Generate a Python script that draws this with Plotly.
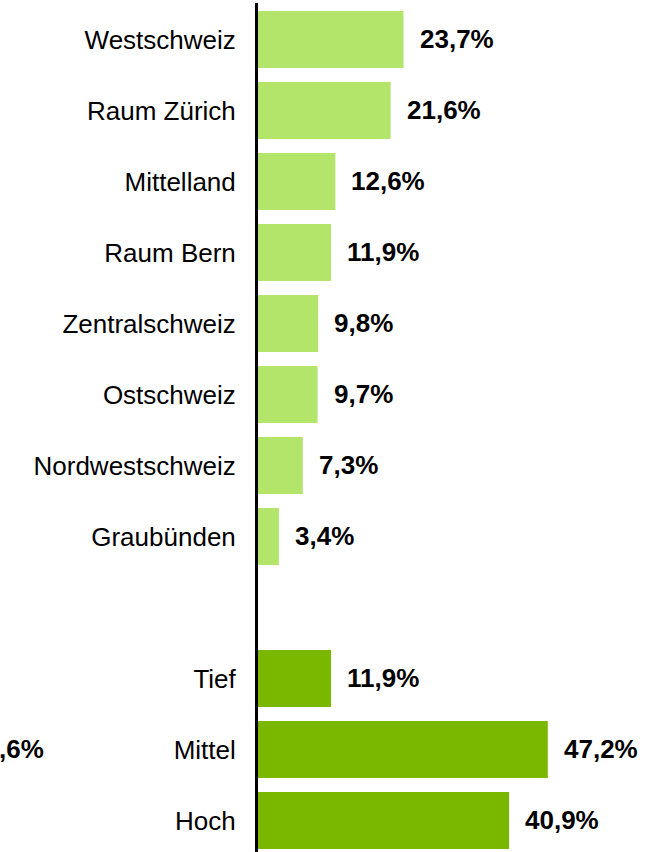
import plotly.graph_objects as go

regions = ["Westschweiz", "Raum Zürich", "Mittelland", "Raum Bern",
           "Zentralschweiz", "Ostschweiz", "Nordwestschweiz", "Graubünden"]
region_values = [23.7, 21.6, 12.6, 11.9, 9.8, 9.7, 7.3, 3.4]

levels = ["Tief", "Mittel", "Hoch"]
level_values = [11.9, 47.2, 40.9]

stray_label = ",6%"

LIGHT = "#B2E56A"
DARK = "#7AB800"
FONT = "Liberation Sans, Arial, sans-serif"

def fmt(v):
    return f"{v:.1f}".replace(".", ",") + "%"

y_regions = list(range(len(regions)))
y_levels = [len(regions) + 1 + j for j in range(len(levels))]

fig = go.Figure()
fig.add_trace(go.Bar(y=y_regions, x=region_values, orientation="h",
                     marker=dict(color=LIGHT, line=dict(width=0)),
                     hoverinfo="skip", showlegend=False))
fig.add_trace(go.Bar(y=y_levels, x=level_values, orientation="h",
                     marker=dict(color=DARK, line=dict(width=0)),
                     hoverinfo="skip", showlegend=False))

annotations = []
for y, v in zip(y_regions + y_levels, region_values + level_values):
    annotations.append(dict(x=v, y=y, xref="x", yref="y", text=f"<b>{fmt(v)}</b>",
                            showarrow=False, xanchor="left", yanchor="middle",
                            xshift=14, font=dict(family=FONT, size=26, color="#000000")))
# partially cut-off label at the left edge
annotations.append(dict(x=0, y=y_levels[1], xref="paper", yref="y",
                        text=f"<b>{stray_label}</b>", showarrow=False,
                        xanchor="right", yanchor="middle", xshift=-212,
                        font=dict(family=FONT, size=26, color="#000000")))

px_per_unit = 6.14
left = 258
x_max = (665 - left) / px_per_unit

fig.update_layout(
    width=665, height=852,
    margin=dict(l=left, r=0, t=3, b=0),
    paper_bgcolor="white", plot_bgcolor="white",
    bargap=0.2,
    xaxis=dict(range=[0, x_max], visible=False, showgrid=False, zeroline=False),
    yaxis=dict(range=[11.444, -0.514], tickmode="array",
               tickvals=y_regions + y_levels, ticktext=regions + levels,
               showgrid=False, zeroline=False, showline=True,
               linecolor="#000000", linewidth=3,
               ticks="outside", ticklen=14, tickcolor="rgba(0,0,0,0)",
               tickfont=dict(family=FONT, size=26, color="#000000")),
    annotations=annotations,
)

fig.write_html("out.html", config={"displayModeBar": False},
               post_script="document.body.style.margin='0';document.body.style.padding='0';")
